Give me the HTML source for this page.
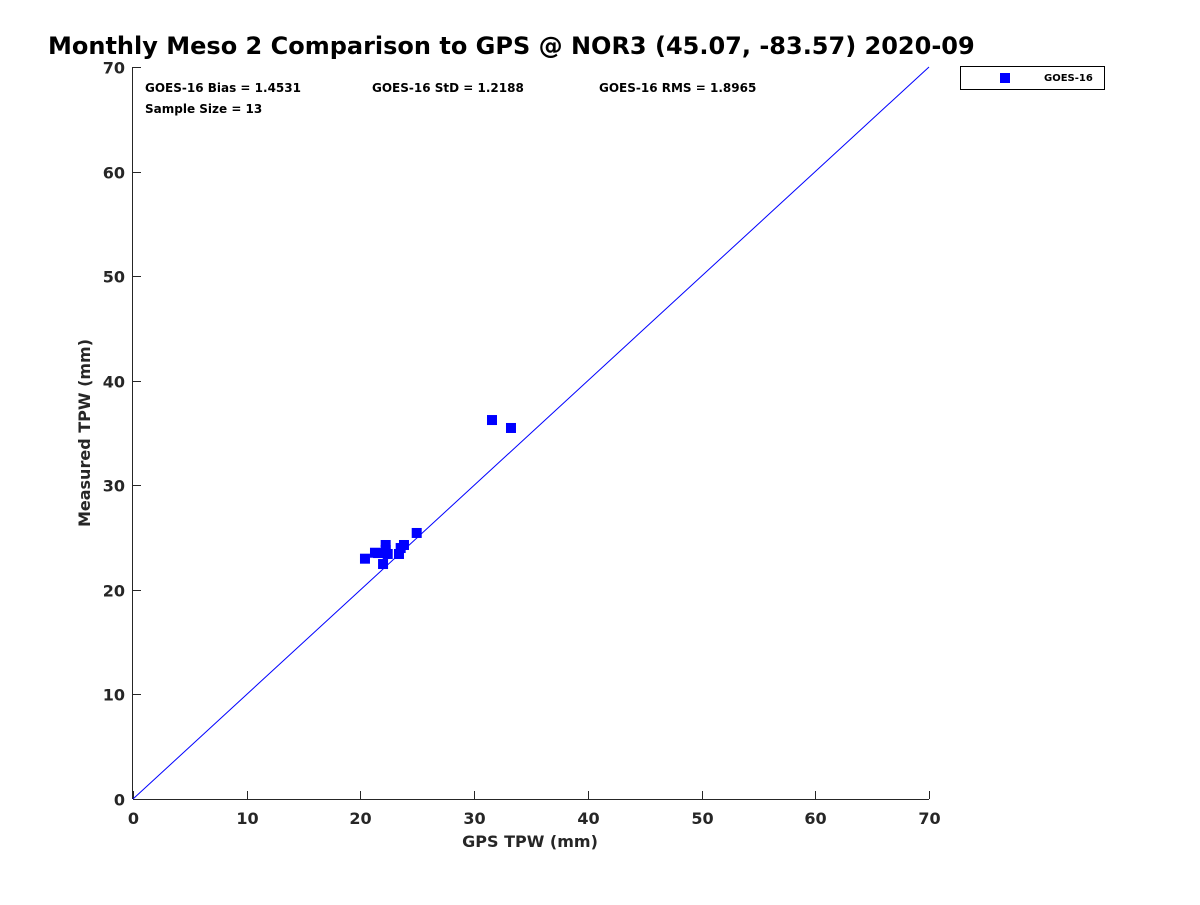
<!DOCTYPE html>
<html><head><meta charset="utf-8"><style>
body{margin:0;background:#fff;}
svg text{font-family:"DejaVu Sans","Liberation Sans",sans-serif;font-weight:bold;}
</style></head><body>
<svg id="chart" width="1200" height="900">
<rect width="1200" height="900" fill="#fff"/>
<text x="48" y="54" font-size="24" fill="#000">Monthly Meso 2 Comparison to GPS @ NOR3 (45.07, -83.57) 2020-09</text>
<g id="axes"></g>
<g id="marks"></g>
<text x="145" y="92" font-size="12">GOES-16 Bias = 1.4531</text>
<text x="372" y="92" font-size="12">GOES-16 StD = 1.2188</text>
<text x="599" y="92" font-size="12">GOES-16 RMS = 1.8965</text>
<text x="145" y="113" font-size="12">Sample Size = 13</text>
<g>
<rect x="960.5" y="66.5" width="144" height="23" fill="#fff" stroke="#000"/>
<rect x="1000" y="73" width="10" height="10" fill="#0000ff"/>
<text x="1044" y="81" font-size="10">GOES-16</text>
</g>
<text x="530" y="847" font-size="16" text-anchor="middle" fill="#262626">GPS TPW (mm)</text>
<text transform="translate(90,433) rotate(-90)" font-size="16" text-anchor="middle" fill="#262626">Measured TPW (mm)</text>
</svg>
<script>
const xTicks=[0,10,20,30,40,50,60,70];
const yTicks=[0,10,20,30,40,50,60,70];
const gpsValues=[20.40,21.28,21.55,22.22,22.22,22.40,21.99,23.39,23.54,23.83,24.95,31.57,33.24];
const measuredValues=[22.98,23.55,23.52,24.29,23.81,23.43,22.47,23.43,24.00,24.29,25.44,36.24,35.48];
const X0=133,X1=929,Y0=799,Y1=67,MIN=0,MAX=70;
const sx=v=>X0+(v-MIN)/(MAX-MIN)*(X1-X0);
const sy=v=>Y0-(v-MIN)/(MAX-MIN)*(Y0-Y1);
const NS="http://www.w3.org/2000/svg";
const axes=document.getElementById('axes'),marks=document.getElementById('marks');
function mk(t,a,p){const e=document.createElementNS(NS,t);for(const k in a)e.setAttribute(k,a[k]);p.appendChild(e);return e;}
const xl=mk('line',{x1:X0,y1:Y0+0.5,x2:X1,y2:Y0+0.5,stroke:'#262626'},axes);


const yl=mk('line',{x1:X0-0.5,y1:Y0,x2:X0-0.5,y2:Y1,stroke:'#262626'},axes);


xTicks.forEach(v=>{
  const x=Math.round(sx(v))+0.5;
  mk('line',{x1:x,y1:Y0,x2:x,y2:Y0-8,stroke:'#262626'},axes);
  const t=mk('text',{x:x,y:Y0+25,'font-size':16,'text-anchor':'middle',fill:'#262626'},axes);
  t.textContent=v;
  
  
});
yTicks.forEach(v=>{
  const y=Math.round(sy(v))+0.5;
  mk('line',{x1:X0,y1:y,x2:X0+8,y2:y,stroke:'#262626'},axes);
  const t=mk('text',{x:X0-8,y:y+6,'font-size':16,'text-anchor':'end',fill:'#262626'},axes);
  t.textContent=v;
  
  
});
const ref=mk('line',{x1:sx(MIN),y1:sy(MIN),x2:sx(MAX),y2:sy(MAX),stroke:'#0000ff','stroke-width':1},marks);


gpsValues.forEach((g,i)=>{
  const r=mk('rect',{x:sx(g)-5,y:sy(measuredValues[i])-5,width:10,height:10,fill:'#0000ff'},marks);
  
  
});
</script>
</body></html>
